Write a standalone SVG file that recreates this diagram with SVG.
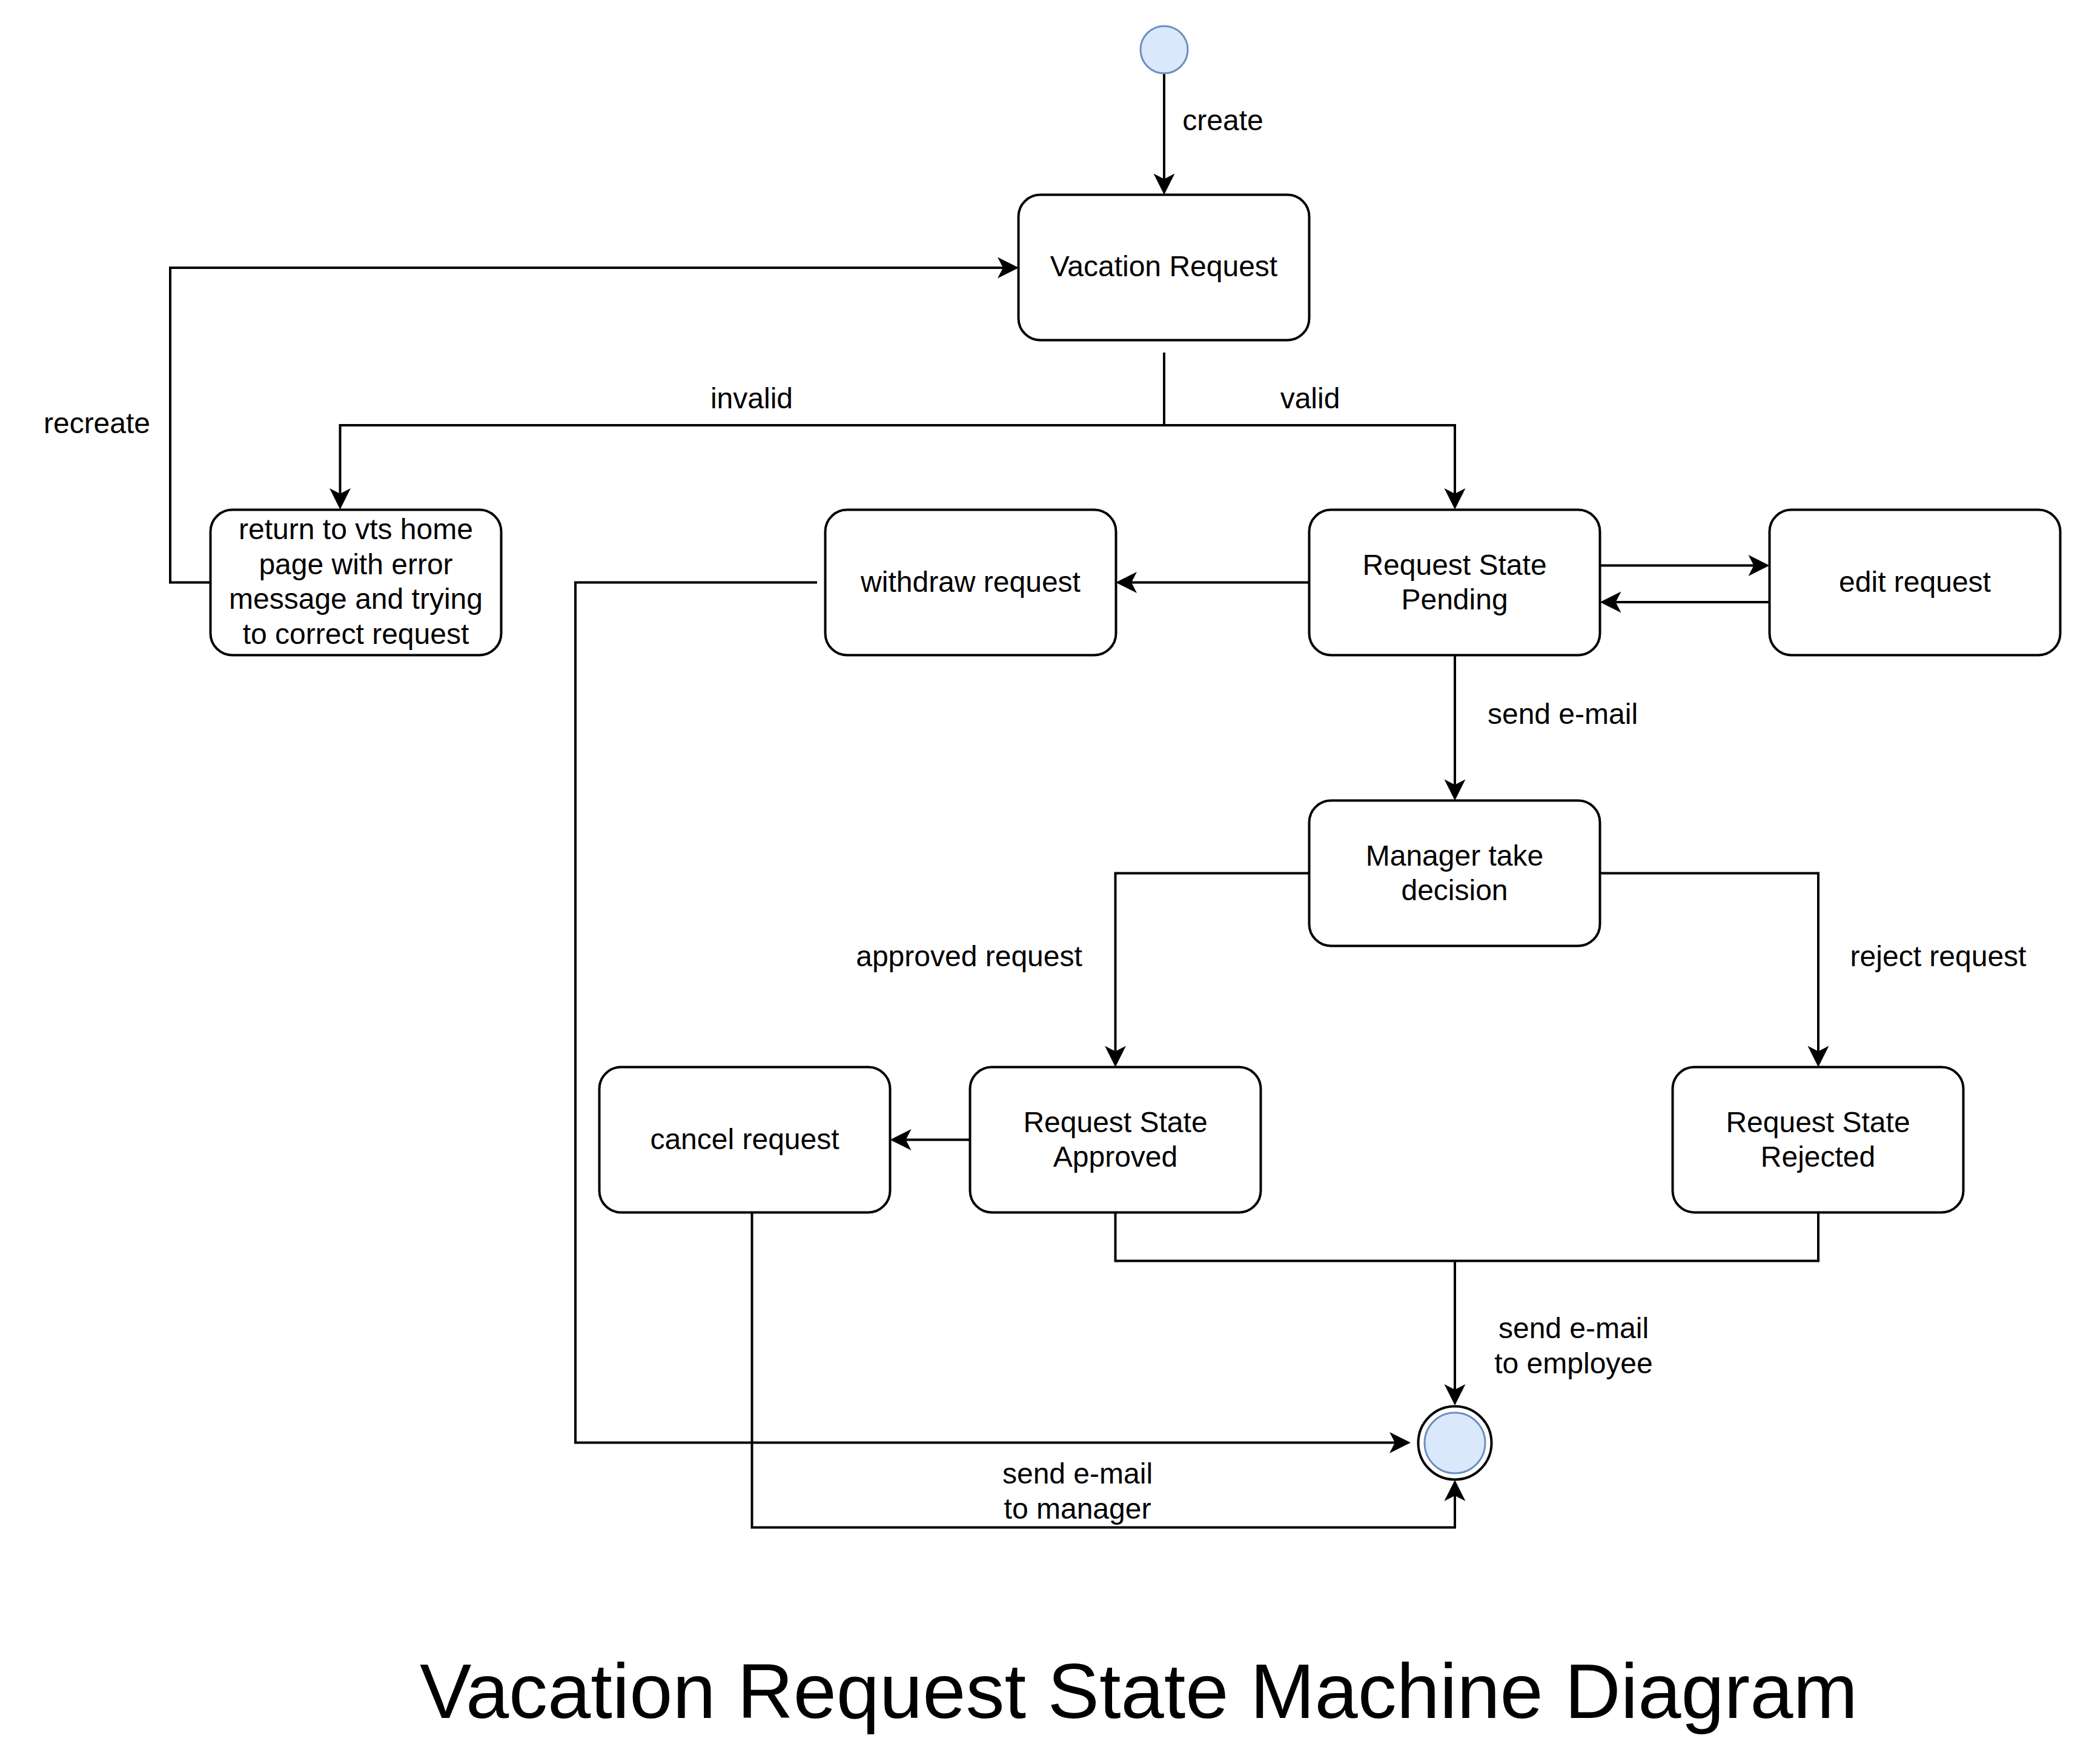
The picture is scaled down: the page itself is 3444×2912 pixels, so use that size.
<svg xmlns="http://www.w3.org/2000/svg" width="3444" height="2912" viewBox="0 0 3444 2912">
<style>
.box{fill:#ffffff;stroke:#000000;stroke-width:4}
.t{font-family:"Liberation Sans",Arial,Helvetica,sans-serif;font-size:48px;fill:#000000;text-anchor:middle}
.title{font-family:"Liberation Sans",Arial,Helvetica,sans-serif;font-size:128px;fill:#000000;text-anchor:middle}
.edge{fill:none;stroke:#000000;stroke-width:4;stroke-linejoin:miter}
.arr{marker-end:url(#ah)}
</style>
<defs>
<marker id="ah" markerUnits="userSpaceOnUse" markerWidth="40" markerHeight="40" viewBox="-10 -20 40 40" refX="0" refY="0" orient="auto">
<path d="M26,0 L-9,-17.5 L0,0 L-9,17.5 Z" fill="#000000"/>
</marker>
</defs>
<rect width="3444" height="2912" fill="#ffffff"/>

<g id="connectors">
<path class="edge arr" d="M1922,121 V295.5"/>
<path class="edge arr" d="M1922,582 V702 H561.5 V815"/>
<path class="edge arr" d="M1922,702 H2402 V815"/>
<path class="edge arr" d="M347.5,961.5 H281 V442 H1656"/>
<path class="edge arr" d="M2161.5,961.5 H1868"/>
<path class="edge arr" d="M1349,961.5 H950 V2381.5 H2303"/>
<path class="edge arr" d="M2641.5,933.5 H2895.5"/>
<path class="edge arr" d="M2921.5,994 H2667.5"/>
<path class="edge arr" d="M2402,1081.5 V1295.5"/>
<path class="edge arr" d="M2161.5,1441.5 H1841.5 V1735.5"/>
<path class="edge arr" d="M2641.5,1441.5 H3002 V1735.5"/>
<path class="edge arr" d="M1601.5,1881.5 H1495.5"/>
<path class="edge" d="M1841.5,2001.5 V2081.5 H3002 V2001.5"/>
<path class="edge arr" d="M2402,2081.5 V2294"/>
<path class="edge arr" d="M1241.5,2001.5 V2521.5 H2402 V2469"/>
<text class="t" x="2019" y="215">create</text>
<text class="t" x="1241" y="674">invalid</text>
<text class="t" x="2163" y="674">valid</text>
<text class="t" x="160" y="715">recreate</text>
<text class="t" x="2580" y="1195">send e-mail</text>
<text class="t" x="1600" y="1595">approved request</text>
<text class="t" x="3200" y="1595">reject request</text>
<text class="t" x="2598" y="2209">send e-mail</text>
<text class="t" x="2598" y="2267">to employee</text>
<text class="t" x="1779" y="2449">send e-mail</text>
<text class="t" x="1779" y="2507">to manager</text>
</g>

<g id="initial">
<circle cx="1922" cy="82" r="39" fill="#dae8fc" stroke="#6c8ebf" stroke-width="3"/>
</g>

<g id="final">
<circle cx="2402" cy="2382" r="60.5" fill="#ffffff" stroke="#000000" stroke-width="4"/>
<circle cx="2402" cy="2382" r="50" fill="#dae8fc" stroke="#6c8ebf" stroke-width="3"/>
</g>

<g id="vacation-request">
<rect class="box" x="1681.5" y="321.5" width="480" height="240" rx="36" ry="36"/>
<text class="t" x="1921.5" y="456">Vacation Request</text>
</g>

<g id="return-home">
<rect class="box" x="347.5" y="841.5" width="480" height="240" rx="36" ry="36"/>
<text class="t" x="587.5" y="890">return to vts home</text>
<text class="t" x="587.5" y="947.6">page with error</text>
<text class="t" x="587.5" y="1005.2">message and trying</text>
<text class="t" x="587.5" y="1062.8">to correct request</text>
</g>

<g id="withdraw-request">
<rect class="box" x="1362.5" y="841.5" width="480" height="240" rx="36" ry="36"/>
<text class="t" x="1602.5" y="977">withdraw request</text>
</g>

<g id="request-pending">
<rect class="box" x="2161.5" y="841.5" width="480" height="240" rx="36" ry="36"/>
<text class="t" x="2401.5" y="948.5">Request State</text>
<text class="t" x="2401.5" y="1006">Pending</text>
</g>

<g id="edit-request">
<rect class="box" x="2921.5" y="841.5" width="480" height="240" rx="36" ry="36"/>
<text class="t" x="3161.5" y="977">edit request</text>
</g>

<g id="manager-decision">
<rect class="box" x="2161.5" y="1321.5" width="480" height="240" rx="36" ry="36"/>
<text class="t" x="2401.5" y="1428.5">Manager take</text>
<text class="t" x="2401.5" y="1486">decision</text>
</g>

<g id="cancel-request">
<rect class="box" x="989.5" y="1761.5" width="480" height="240" rx="36" ry="36"/>
<text class="t" x="1229.5" y="1897">cancel request</text>
</g>

<g id="request-approved">
<rect class="box" x="1601.5" y="1761.5" width="480" height="240" rx="36" ry="36"/>
<text class="t" x="1841.5" y="1868.5">Request State</text>
<text class="t" x="1841.5" y="1926">Approved</text>
</g>

<g id="request-rejected">
<rect class="box" x="2761.5" y="1761.5" width="480" height="240" rx="36" ry="36"/>
<text class="t" x="3001.5" y="1868.5">Request State</text>
<text class="t" x="3001.5" y="1926">Rejected</text>
</g>

<g id="title">
<text class="title" x="1880" y="2836">Vacation Request State Machine Diagram</text>
</g>
</svg>
